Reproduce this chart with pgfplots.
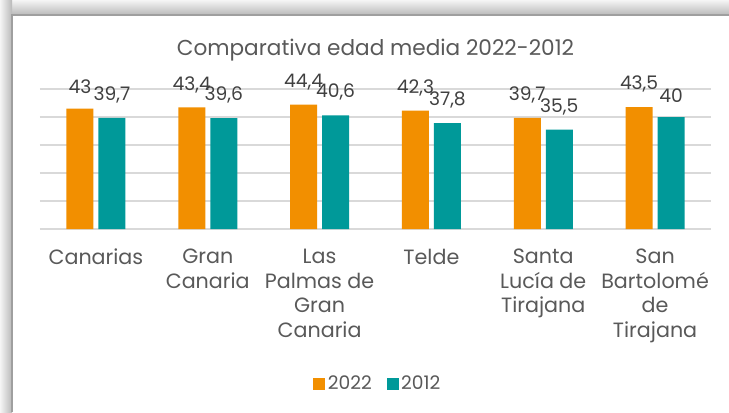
\documentclass[border=0pt]{standalone}
\usepackage{fontspec}
\setmainfont{Poppins}
\usepackage{pgfplots}
\pgfplotsset{compat=1.18}
\definecolor{cOr}{RGB}{242,143,0}
\definecolor{cTe}{RGB}{0,153,153}
\definecolor{txt}{RGB}{89,89,89}
\definecolor{lbl}{RGB}{64,64,64}
\definecolor{grd}{RGB}{217,217,217}
\begin{document}
\begin{tikzpicture}[x=0.75pt,y=0.75pt]
\useasboundingbox (0,0) rectangle (729,412);
\fill[white] (0,0) rectangle (729,412);
\shade[top color=gray!8, bottom color=gray!55] (0,397) rectangle (729,412);
\shade[left color=gray!8, right color=gray!55] (0,0) rectangle (12,412);
\draw[gray!75, line width=1.2pt] (12,0) -- (12,397) -- (729,397);
\node[font=\fontsize{16.2}{19}\selectfont, color=txt] at (375.5,362) {Comparativa edad media 2022-2012};
\begin{axis}[
  at={(30pt,137.25pt)}, anchor=south west,
  scale only axis, width=503.25pt, height=105pt,
  ymin=0, ymax=50, xmin=-0.5, xmax=5.5,
  ybar=3.75pt, bar width=20.25pt,
  ytick={10,20,30,40,50}, yticklabels={}, ymajorgrids,
  grid style={grd, line width=0.8pt},
  axis x line*=bottom, axis y line*=left,
  x axis line style={grd, line width=0.8pt},
  y axis line style={draw=none},
  xtick={0,...,5}, major tick length=0pt,
  xticklabels={Canarias, Gran\\Canaria, Las\\Palmas de\\Gran\\Canaria, Telde, Santa\\Lucía de\\Tirajana, San\\Bartolomé\\de\\Tirajana},
  xticklabel style={align=center, font=\fontsize{15.5}{18.5}\selectfont, color=txt, yshift=-11.5pt},
  /pgf/number format/use comma, /pgf/number format/assume math mode=true,
  nodes near coords,
  nodes near coords style={font=\fontsize{14}{16}\selectfont, color=lbl, yshift=7.5pt},
  legend style={at={(0.504,-1.105)}, anchor=center, legend columns=-1, draw=none, font=\fontsize{14}{16}\selectfont, text=txt,
    /tikz/every even column/.append style={column sep=9pt}},
  legend image code/.code={\fill[#1] (0pt,-4.5pt) rectangle (9pt,4.5pt);},
]
\addplot[fill=cOr, draw=none] coordinates {(0,43) (1,43.4) (2,44.4) (3,42.3) (4,39.7) (5,43.5)};
\addplot[fill=cTe, draw=none] coordinates {(0,39.7) (1,39.6) (2,40.6) (3,37.8) (4,35.5) (5,40)};
\legend{2022, 2012}
\end{axis}
\end{tikzpicture}
\end{document}
